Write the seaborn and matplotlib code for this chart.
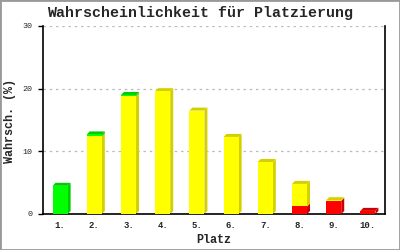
import numpy as np
import matplotlib
matplotlib.use("Agg")
import matplotlib.pyplot as plt
import seaborn as sns
from matplotlib.patches import Polygon, Rectangle

places = ["1.", "2.", "3.", "4.", "5.", "6.", "7.", "8.", "9.", "10."]
green = [4.5, 0.3, 0.2, 0.0, 0.0, 0.0, 0.0, 0.0, 0.0, 0.0]
yellow = [0.0, 12.4, 18.8, 19.6, 16.5, 12.3, 8.3, 3.6, 0.1, 0.0]
red = [0.0, 0.0, 0.0, 0.0, 0.0, 0.0, 0.0, 1.2, 2.1, 0.5]
yticks = [0, 10, 20, 30]

sns.set_theme(style="white")
plt.rcParams["font.family"] = ["Liberation Mono", "DejaVu Sans Mono"]

fig = plt.figure(figsize=(4, 2.5), dpi=100)
ax = fig.add_axes([43 / 400, 36 / 250, 342 / 400, 188 / 250])

red_a = np.array(red)
yel_a = np.array(yellow)
grn_a = np.array(green)
tot_ry = red_a + yel_a
tot = tot_ry + grn_a

W = 0.44
front = {"g": "#00FF00", "y": "#FFFF00", "r": "#FF0000"}
dark = {"g": "#00CC00", "y": "#D4D000", "r": "#CC0000"}

sns.barplot(x=places, y=tot, color=front["g"], width=W, saturation=1, ax=ax, linewidth=0, zorder=3)
sns.barplot(x=places, y=tot_ry, color=front["y"], width=W, saturation=1, ax=ax, linewidth=0, zorder=3)
sns.barplot(x=places, y=red_a, color=front["r"], width=W, saturation=1, ax=ax, linewidth=0, zorder=3)

ax.set_xlim(-0.5, len(places) - 0.5)
ax.set_ylim(0, 30)

# 3D depth in data units from pixel offsets
fig.canvas.draw()
inv = ax.transData.inverted()
p0 = inv.transform(ax.transData.transform((0, 0)))
p1 = inv.transform(ax.transData.transform((0, 0)) + np.array([3, 3]))
dx, dy = p1 - p0

for i in range(len(places)):
    xl = i - W / 2
    xr = i + W / 2
    segs = [("r", 0, red_a[i]), ("y", red_a[i], tot_ry[i]), ("g", tot_ry[i], tot[i])]
    top_key = None
    for key, y0, y1 in segs:
        if y1 - y0 <= 0:
            continue
        top_key = key
        ax.add_patch(Polygon([(xr, y0), (xr + dx, y0 + dy), (xr + dx, y1 + dy), (xr, y1)],
                             closed=True, facecolor=dark[key], edgecolor="none", zorder=2))
    if top_key is not None:
        t = tot[i]
        ax.add_patch(Polygon([(xl, t), (xr, t), (xr + dx, t + dy), (xl + dx, t + dy)],
                             closed=True, facecolor=dark[top_key], edgecolor="none", zorder=2))

for v in yticks[1:]:
    ax.axhline(v, color="#BBBBBB", linewidth=0.9, linestyle=(0, (2, 3)), zorder=1)

ax.set_yticks(yticks)
ax.set_yticklabels([str(v) for v in yticks], fontsize=6)
ax.tick_params(axis="y", direction="out", length=3.8, width=1, color="black", pad=4, left=True)
ax.tick_params(axis="x", length=0, labelsize=6.5, pad=5)
for lbl in ax.get_xticklabels():
    lbl.set_fontweight("bold")

for s in ["left", "right", "bottom"]:
    ax.spines[s].set_visible(True)
    ax.spines[s].set_color("black")
    ax.spines[s].set_linewidth(1.2)
ax.spines["top"].set_visible(False)

ax.set_xlabel("Platz", fontsize=8.5, fontweight="bold")
ax.set_ylabel("Wahrsch. (%)", fontsize=8.5, fontweight="bold")
ax.xaxis.set_label_coords(0.5, -0.105)
ax.yaxis.set_label_coords(-0.078, 0.495)
fig.text(0.5, 0.946, "Wahrscheinlichkeit für Platzierung", ha="center", va="center",
         fontsize=10.8, fontweight="bold")

fig.add_artist(Rectangle((0, 0), 1, 1, transform=fig.transFigure, fill=False,
                         edgecolor="#999999", linewidth=2))

fig.savefig("out.png", dpi=100)
